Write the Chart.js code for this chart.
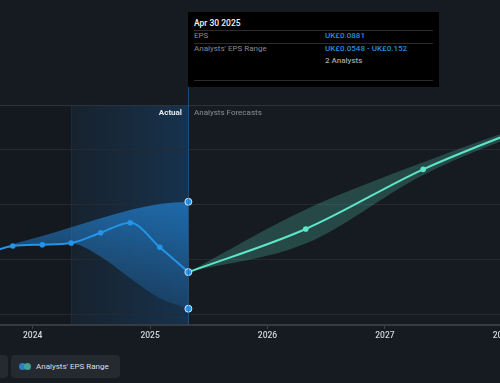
<!DOCTYPE html>
<html>
<head>
<meta charset="utf-8">
<script src="https://cdn.jsdelivr.net/npm/chart.js@4/dist/chart.umd.min.js"></script>
<style>
  html,body{margin:0;padding:0;background:#161b22;overflow:hidden;width:500px;height:383px;}
  #wrap{position:relative;width:500px;height:383px;overflow:hidden;font-family:Roboto,"Open Sans",sans-serif;}
  #cv{position:absolute;left:0;top:0;}
  .tip{position:absolute;left:188px;top:12px;width:251px;height:75px;background:#000;}
  .tip .t{position:absolute;left:6px;top:17px;font-size:8.5px;color:#f2f2f2;font-weight:500;line-height:1;}
  .tip .sep{position:absolute;left:6px;width:239px;height:1px;background:#2c2c2c;}
  .tip .l{position:absolute;left:6px;font-size:8px;color:#8a8a8a;line-height:1;}
  .tip .v{position:absolute;left:137px;font-size:8px;color:#2a8bdc;font-weight:500;line-height:1;}
  .tip .g{position:absolute;left:137px;font-size:8px;color:#a3a3a3;font-weight:500;line-height:1;}
  .lab{position:absolute;top:109px;font-size:8px;line-height:1;}
  .btn{position:absolute;top:355px;height:23px;background:#252a31;border-radius:4px;}
  .btn span{position:absolute;left:25px;top:7.5px;font-size:8px;color:#dcdfe3;line-height:1;white-space:nowrap;}
  .dot{position:absolute;top:8px;width:7px;height:7px;border-radius:50%;}
</style>
</head>
<body>
<div id="wrap">
  <canvas id="cv" width="560" height="383"></canvas>
  <div class="tip">
    <div class="t" style="top:7px">Apr 30 2025</div>
    <div class="sep" style="top:18px"></div>
    <div class="l" style="top:20px">EPS</div>
    <div class="v" style="top:20px">UK£0.0881</div>
    <div class="sep" style="top:31px"></div>
    <div class="l" style="top:33px">Analysts' EPS Range</div>
    <div class="v" style="top:33px">UK£0.0548 - UK£0.152</div>
    <div class="g" style="top:45px">2 Analysts</div>
    <div class="sep" style="top:68px"></div>
  </div>
  <div class="lab" style="right:318px;color:#e6e8ea;font-weight:700;">Actual</div>
  <div class="lab" style="left:194px;color:#8a9097;">Analysts Forecasts</div>
  <div class="btn" style="left:-20px;width:28px;"></div>
  <div class="btn" style="left:11px;width:109px;">
    <div class="dot" style="left:8px;background:#2b7fc4;"></div>
    <div class="dot" style="left:13px;background:#46a79b;opacity:0.95"></div>
    <span>Analysts' EPS Range</span>
  </div>
</div>
<script>
// ---- data ----
const hDates = ['2023-07-31','2023-10-31','2024-01-31','2024-04-30','2024-07-31','2024-10-31','2025-01-31','2025-04-30'];
const hEps   = [0.1040, 0.1118, 0.1130, 0.1145, 0.1239, 0.1330, 0.1106, 0.0881];
const hHigh  = [0.1040, 0.1134, 0.1209, 0.1288, 0.1370, 0.1445, 0.1500, 0.1520];
const hLow   = [0.1040, 0.1115, 0.1128, 0.1141, 0.1021, 0.0825, 0.0643, 0.0548];
const fDates = ['2025-04-30','2026-04-30','2027-04-30','2028-04-30'];
const fEps   = [0.0881, 0.1273, 0.1815, 0.2250];
const fHigh  = [0.0881, 0.1450, 0.1880, 0.2265];
const fLow   = [0.0881, 0.1140, 0.1764, 0.2215];
const yearTicks = [2024, 2025, 2026, 2027, 2028];
const yTicks = [0.05, 0.10, 0.15, 0.20, 0.24];
const actualStart = '2024-04-30';
const actualEnd = '2025-04-30';

function toYear(s){
  const [y,m,d] = s.split('-').map(Number);
  const a = Date.UTC(y,0,1), b = Date.UTC(y+1,0,1);
  return y + (Date.UTC(y,m-1,d)-a)/(b-a);
}
const pts = (dates, vals) => dates.map((d,i)=>({x:toYear(d), y:vals[i]}));

const BLUE = '#2394e8', TEAL = '#5ee6c8';
const lastH = hDates.length - 1;

const bgPlugin = {
  id:'bg',
  beforeDraw(chart){
    const {ctx, chartArea:ca, scales:{x}} = chart;
    ctx.save();
    ctx.fillStyle = '#161b22';
    ctx.fillRect(0,0,chart.width,chart.height);
    ctx.fillStyle = '#14181f';
    const x0 = x.getPixelForValue(toYear(actualStart));
    const x1 = x.getPixelForValue(toYear(actualEnd));
    ctx.fillRect(0, ca.top, x0, ca.bottom-ca.top);
    const g = ctx.createLinearGradient(x0,0,x1,0);
    g.addColorStop(0,'rgba(30,95,150,0.10)');
    g.addColorStop(1,'rgba(25,100,170,0.32)');
    ctx.fillStyle = g;
    ctx.fillRect(x0, ca.top, x1-x0, ca.bottom-ca.top);
    ctx.strokeStyle = 'rgba(255,255,255,0.05)';
    ctx.lineWidth = 1;
    ctx.beginPath(); ctx.moveTo(Math.round(x0)+0.5, ca.top); ctx.lineTo(Math.round(x0)+0.5, ca.bottom); ctx.stroke();
    ctx.restore();
  },
  afterDatasetsDraw(chart){
    const {ctx, chartArea:ca, scales:{x}} = chart;
    const x1 = x.getPixelForValue(toYear(actualEnd));
    ctx.save();
    ctx.strokeStyle = 'rgba(40,110,170,0.55)';
    ctx.lineWidth = 1;
    ctx.beginPath(); ctx.moveTo(Math.round(x1)+0.5, 87); ctx.lineTo(Math.round(x1)+0.5, ca.bottom); ctx.stroke();
    ctx.restore();
  }
};

function bandGrad(ctx){
  const c = ctx.chart;
  if(!c.chartArea) return 'rgba(35,140,225,0.4)';
  const y = c.scales.y;
  const g = c.ctx.createLinearGradient(0, y.getPixelForValue(0.152), 0, y.getPixelForValue(0.055));
  g.addColorStop(0,'rgba(35,140,228,0.62)');
  g.addColorStop(1,'rgba(35,140,228,0.17)');
  return g;
}

const hollowR = (ctx) => ctx.dataIndex === lastH ? 3.5 : 0;

new Chart(document.getElementById('cv'), {
  type:'line',
  data:{
    datasets:[
      {data:pts(hDates,hEps), borderColor:BLUE, borderWidth:2, cubicInterpolationMode:'monotone',
       pointRadius:(c)=>c.dataIndex===lastH?3.5:2.8, pointBackgroundColor:BLUE,
       pointBorderColor:(c)=>c.dataIndex===lastH?'#d6e4f0':BLUE, pointBorderWidth:(c)=>c.dataIndex===lastH?1:0, fill:false},
      {data:pts(fDates,fEps), borderColor:TEAL, borderWidth:2, cubicInterpolationMode:'monotone',
       pointRadius:(c)=>c.dataIndex===0?0:2.8, pointBackgroundColor:TEAL, pointBorderWidth:0, fill:false},
      {data:pts(hDates,hHigh), borderWidth:0, borderColor:'rgba(0,0,0,0)', cubicInterpolationMode:'monotone',
       pointRadius:hollowR, pointBackgroundColor:BLUE, pointBorderColor:'#d6e4f0', pointBorderWidth:1,
       fill:'+1', backgroundColor:bandGrad},
      {data:pts(hDates,hLow), borderWidth:0, borderColor:'rgba(0,0,0,0)', cubicInterpolationMode:'monotone',
       pointRadius:hollowR, pointBackgroundColor:BLUE, pointBorderColor:'#d6e4f0', pointBorderWidth:1, fill:false},
      {data:pts(fDates,fHigh), borderWidth:0, borderColor:'rgba(0,0,0,0)', cubicInterpolationMode:'monotone',
       pointRadius:0, fill:'+1', backgroundColor:'rgba(94,230,200,0.22)'},
      {data:pts(fDates,fLow), borderWidth:0, borderColor:'rgba(0,0,0,0)', cubicInterpolationMode:'monotone',
       pointRadius:0, fill:false}
    ]
  },
  options:{
    responsive:false, animation:false, devicePixelRatio:1,
    layout:{autoPadding:false, padding:{top:105,left:0,right:0,bottom:0}},
    plugins:{legend:{display:false}, tooltip:{enabled:false}, filler:{drawTime:'beforeDatasetsDraw'}},
    events:[],
    scales:{
      x:{type:'linear', min:2024-32.7/117.4, max:2024-32.7/117.4+560/117.4,
         afterBuildTicks:(s)=>{ s.ticks = yearTicks.map(v=>({value:v})); },
         afterFit:(s)=>{ s.height = 58; s.paddingLeft = 0; s.paddingRight = 0; },
         ticks:{autoSkip:false, maxRotation:0, padding:2, color:'#d3d6da', font:{family:'Roboto', size:8.5, weight:'500'},
                callback:(v)=>String(v)},
         grid:{drawOnChartArea:false, drawTicks:true, tickLength:4, color:'#3a4049'},
         border:{display:true, color:'#353b43', width:2}},
      y:{min:0.04, max:0.24,
         afterBuildTicks:(s)=>{ s.ticks = yTicks.map(v=>({value:v})); },
         afterFit:(s)=>{ s.width = 0; s.paddingTop = 0; s.paddingBottom = 0; },
         ticks:{display:false},
         grid:{drawTicks:false, color:(c)=>c.tick && c.tick.value===0.24 ? '#2d333b' : '#242a32', lineWidth:1},
         border:{display:false}}
    }
  },
  plugins:[bgPlugin]
});
</script>
</body>
</html>
